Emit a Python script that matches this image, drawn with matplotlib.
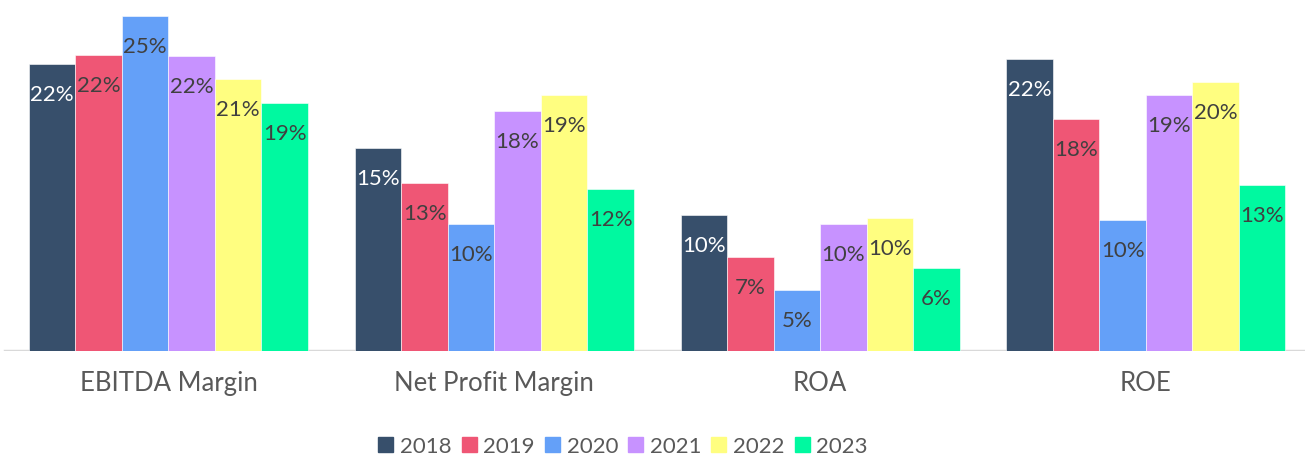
import matplotlib
matplotlib.use('Agg')
import matplotlib.pyplot as plt
from matplotlib.patches import Patch
import numpy as np

plt.rcParams['font.family'] = ['Lato', 'DejaVu Sans']

categories = ['EBITDA Margin', 'Net Profit Margin', 'ROA', 'ROE']
years = ['2018', '2019', '2020', '2021', '2022', '2023']
colors = ['#374F6B', '#EF5675', '#64A0F8', '#C792FF', '#FFFE80', '#00F9A0']

v2018 = [21.7, 15.4, 10.3, 22.1]
v2019 = [22.4, 12.7, 7.1, 17.6]
v2020 = [25.4, 9.6, 4.6, 9.9]
v2021 = [22.3, 18.2, 9.6, 19.4]
v2022 = [20.6, 19.4, 10.1, 20.4]
v2023 = [18.8, 12.3, 6.3, 12.6]
series = [v2018, v2019, v2020, v2021, v2022, v2023]

fig = plt.figure(figsize=(13.05, 4.56), dpi=100)
ax = fig.add_axes([0, 0.228, 1, 0.772])

x = np.arange(len(categories))
w = 0.1427
for i, (vals, c) in enumerate(zip(series, colors)):
    pos = x + (i - 2.5) * w
    bars = ax.bar(pos, vals, w, color=c, edgecolor='white', linewidth=0.4)
    tc = 'white' if i == 0 else '#404040'
    for b, v in zip(bars, vals):
        ax.annotate(f'{v:.0f}%', (b.get_x() + b.get_width() / 2, v),
                    xytext=(0, -30), textcoords='offset pixels',
                    ha='center', va='center', fontsize=16, color=tc)

ax.set_xlim(-0.517, 3.488)
ax.set_ylim(0, 26.65)
ax.axhline(0, xmin=0.004, color='#d9d9d9', lw=2.5, zorder=0)
for s in ax.spines.values():
    s.set_visible(False)
ax.set_yticks([])
ax.set_xticks(x)
ax.set_xticklabels(categories, fontsize=18.5, color='#595959')
ax.tick_params(axis='x', length=0, pad=14)

handles = [Patch(color=c, label=y) for c, y in zip(colors, years)]
fig.legend(handles=handles, loc='center', bbox_to_anchor=(623 / 1305, 9 / 456),
           ncol=6, frameon=False, fontsize=16, handlelength=0.68, handleheight=0.68,
           handletextpad=0.3, columnspacing=0.45, labelcolor='#595959')

fig.savefig('out.png', dpi=100)
